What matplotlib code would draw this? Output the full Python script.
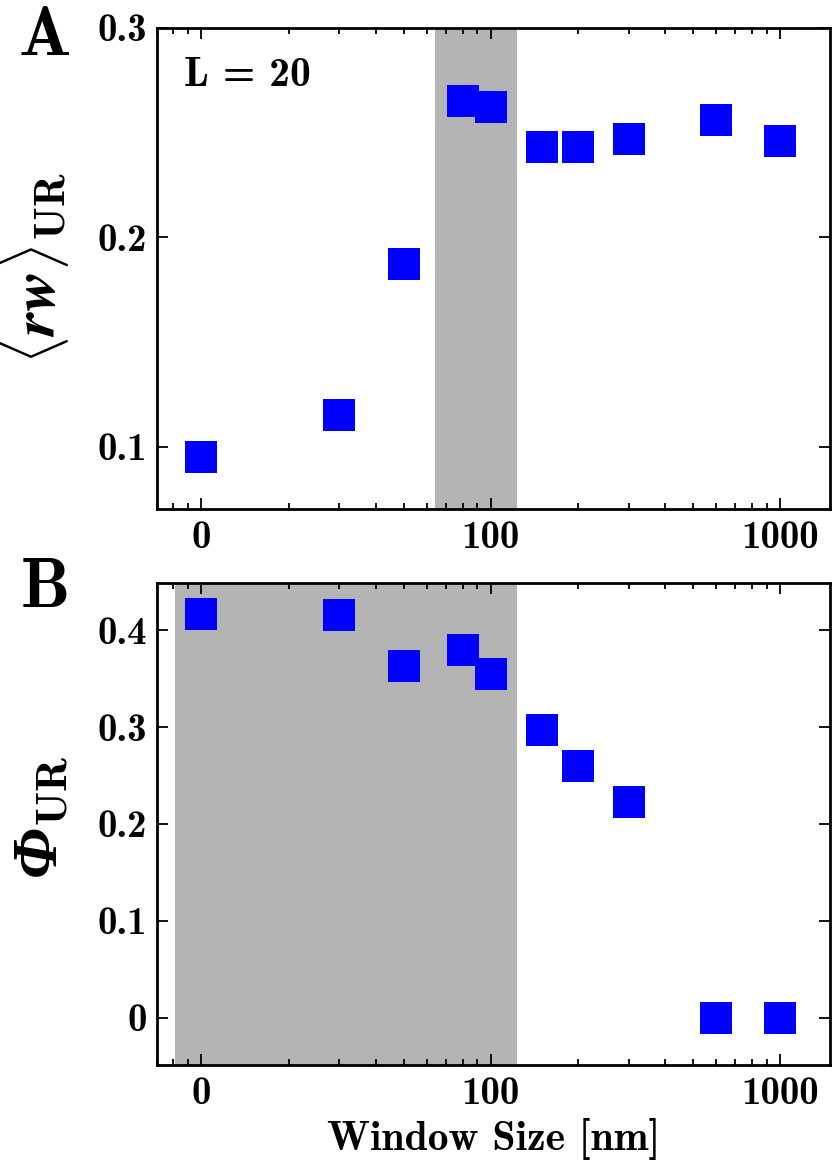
import matplotlib
matplotlib.use('Agg')
import matplotlib.pyplot as plt
import numpy as np
from matplotlib.ticker import FixedLocator, FixedFormatter, LogLocator, NullFormatter

plt.rcParams['mathtext.fontset'] = 'cm'
plt.rcParams['font.family'] = ['cmb10', 'DejaVu Serif']
plt.rcParams['axes.unicode_minus'] = False

# ---- data ----
window_nm = [0, 30, 50, 80, 100, 150, 200, 300, 600, 1000]
rw_UR = [0.095, 0.115, 0.187, 0.265, 0.262, 0.243, 0.243, 0.247, 0.256, 0.246]
phi_UR = [0.417, 0.416, 0.363, 0.379, 0.355, 0.297, 0.260, 0.223, 0.0, 0.0]
zero_plot_pos = 10  # where window size 0 is drawn on the log axis
x_tick_vals = [10, 100, 1000]
x_tick_labels = ['0', '100', '1000']
yA_ticks = [0.1, 0.2, 0.3]
yA_labels = ['0.1', '0.2', '0.3']
yB_ticks = [0.0, 0.1, 0.2, 0.3, 0.4]
yB_labels = ['0', '0.1', '0.2', '0.3', '0.4']
shade_A = (64, 123)
shade_B = (8.1, 123)

x_plot = np.array([zero_plot_pos if w == 0 else w for w in window_nm], dtype=float)

fig = plt.figure(figsize=(8.33, 11.62), dpi=100)
axA = fig.add_axes([0.1881, 0.5620, 0.8083, 0.4142])
axB = fig.add_axes([0.1881, 0.0839, 0.8083, 0.4148])

def style(ax, yticks, ylabels):
    ax.set_xscale('log')
    ax.set_xlim(7.0, 1490)
    ax.xaxis.set_major_locator(FixedLocator(x_tick_vals))
    ax.xaxis.set_major_formatter(FixedFormatter(x_tick_labels))
    ax.xaxis.set_minor_locator(LogLocator(base=10, subs=np.arange(2, 10)))
    ax.xaxis.set_minor_formatter(NullFormatter())
    ax.yaxis.set_major_locator(FixedLocator(yticks))
    ax.yaxis.set_major_formatter(FixedFormatter(ylabels))
    ax.tick_params(which='both', direction='in', top=True, right=True, width=1.3)
    ax.tick_params(which='major', length=8, labelsize=28)
    ax.tick_params(which='minor', length=4)
    ax.tick_params(axis='y', pad=7)
    ax.tick_params(axis='x', pad=9)
    for s in ax.spines.values():
        s.set_linewidth(2.0)

# Panel A
axA.axvspan(shade_A[0], shade_A[1], color='#b4b4b4', lw=0, zorder=0)
axA.plot(x_plot, rw_UR, 's', color='blue', ms=23.5, mew=0, zorder=3)
axA.set_ylim(0.0703, 0.3)
style(axA, yA_ticks, yA_labels)
axA.set_ylabel(r'$\langle \boldsymbol{rw} \rangle_{\mathbf{UR}}$', fontsize=44)
axA.yaxis.set_label_coords(-0.128, 0.50)
axA.text(0.04, 0.94, 'L = 20', transform=axA.transAxes, fontsize=30,
         ha='left', va='top')
fig.text(0.022, 0.995, 'A', fontsize=50, ha='left', va='top')

# Panel B
axB.axvspan(shade_B[0], shade_B[1], color='#b4b4b4', lw=0, zorder=0)
axB.plot(x_plot, phi_UR, 's', color='blue', ms=23.5, mew=0, zorder=3)
axB.set_ylim(-0.048, 0.449)
style(axB, yB_ticks, yB_labels)
axB.set_ylabel('\u03a6' + r'${}_{\mathbf{UR}}$', fontsize=46,
               family=['Liberation Serif', 'DejaVu Serif'], style='italic', weight='bold')
axB.yaxis.set_label_coords(-0.126, 0.513)
axB.set_xlabel('Window Size [nm]', fontsize=30, labelpad=4)
fig.text(0.025, 0.520, 'B', fontsize=50, ha='left', va='top')

fig.savefig('out.png', dpi=100)
